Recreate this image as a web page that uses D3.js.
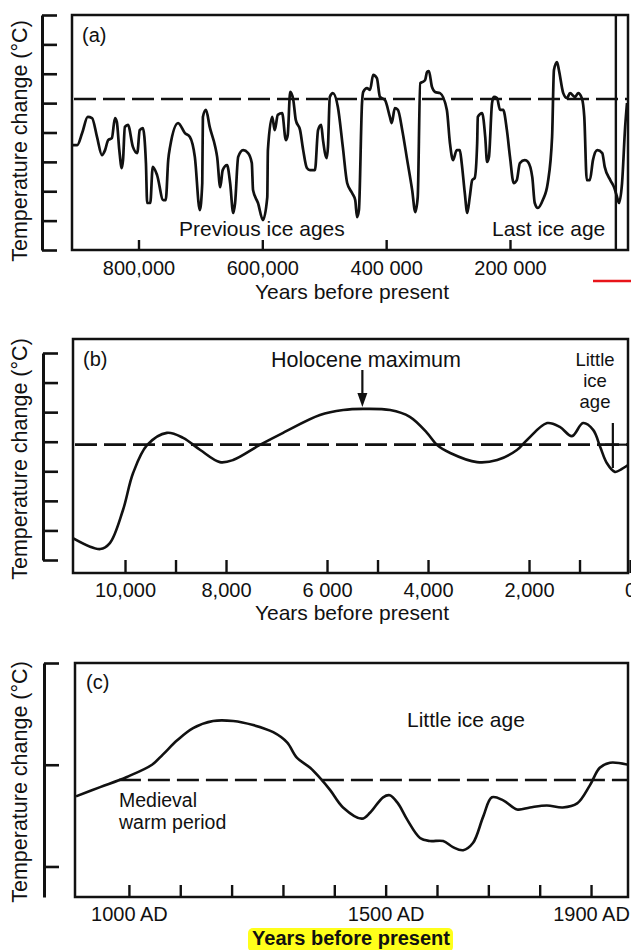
<!DOCTYPE html>
<html><head><meta charset="utf-8">
<script src="https://cdn.jsdelivr.net/npm/d3@7"></script>
<style>
body{margin:0;background:#fff}
svg{display:block}
text{font-family:"Liberation Sans",Arial,Helvetica,sans-serif;fill:#111}
</style>
</head><body>
<svg id="chart" width="631" height="950"></svg>
<script>
// ---------- DATA ----------
// Panel (a): last ~900,000 years (years before present, temperature in tick units)
const yearsA = [907,899,891,882,875,867,859,854,849,843,838,835,831,827,825,822,817,809,802,798,
 793,788,786,781,777,770,760,756,752,749,736,725,717,709,701,697,696,691,685,676,
 673,668,664,657,652,647,644,639,631,623,617,615,607,599,592,591,584,580,575,568,
 562,559,555,550,546,539,534,528,523,515,510,505,502,496,494,491,486,478,470,463,
 455,450,447,444,439,437,431,426,421,415,410,402,394,391,386,381,374,366,358,353,
 349,345,341,337,334,331,326,321,313,302,297,292,286,281,278,273,269,265,261,257,
 253,252,245,240,237,234,229,226,221,216,211,205,200,194,189,184,176,171,164,160,
 155,147,139,132,129,124,121,114,108,103,95,90,84,80,76,71,66,59,51,47,
 38,32,27,24,19,14,11].map(k => k * 1000);
const tempA = [3.57,3.57,3.98,4.53,4.49,3.85,3.23,3.40,3.74,3.81,4.49,4.36,3.40,2.79,3.06,4.19,4.26,3.51,3.30,4.08,
 4.15,2.96,1.60,1.60,2.83,2.55,1.70,1.70,3.06,3.51,4.32,3.98,3.85,3.17,1.36,2.28,4.53,4.77,4.19,3.51,
 3.17,2.14,2.72,2.89,2.28,1.26,1.60,3.17,3.40,3.30,2.96,2.04,1.60,1.02,1.80,3.40,4.53,4.08,4.60,4.66,
 3.74,3.91,5.38,5.11,4.43,4.08,3.40,2.79,2.72,2.72,4.08,4.26,3.74,3.13,3.51,5.21,5.34,4.87,3.51,2.28,
 1.94,1.70,1.12,1.36,5.00,5.38,5.51,5.45,5.96,5.85,5.21,5.11,4.53,4.32,4.83,4.77,4.08,3.06,2.04,1.29,
 1.80,5.68,5.72,5.79,6.06,6.09,5.55,5.38,5.34,4.77,3.64,3.06,3.40,3.40,2.96,1.94,1.26,1.80,2.38,2.45,
 3.64,4.53,4.66,3.85,3.00,3.17,5.00,5.21,5.17,4.77,4.77,4.08,3.17,2.28,2.38,2.96,3.06,3.00,2.48,1.60,
 1.43,1.70,2.28,3.85,6.13,6.40,6.13,5.34,5.17,5.34,5.21,5.34,5.17,4.53,2.38,2.38,3.06,3.40,3.30,2.83,
 2.38,2.14,1.80,1.60,2.28,4.19,5.00];
const ticksA = [800000, 600000, 400000, 200000];
const tickLabelsA = ["800,000", "600,000", "400 000", "200 000"];
const referenceA = 5.14;
const markerYearA = 29000;

// Panel (b): last ~11,000 years
const yearsB = [11030,10490,10300,10040,9840,9560,9170,8850,8510,8120,7860,7330,6870,6140,5680,5290,4750,4360,
 4020,3820,3560,3030,2630,2240,2040,1640,1390,1150,930,730,590,460,300,160,40];
const tempB = [0.74,0.37,0.57,1.69,2.94,3.89,4.30,4.13,3.72,3.31,3.38,3.89,4.30,4.90,5.07,5.11,5.07,4.84,
 4.30,3.89,3.62,3.31,3.38,3.72,4.06,4.63,4.50,4.19,4.63,4.40,3.82,3.28,2.98,3.08,3.21];
const ticksB = [10000, 9000, 8000, 6000, 5000, 4000, 2000, 1000];
const tickLabelsB = {10000: "10,000", 8000: "8,000", 6000: "6 000", 4000: "4,000", 2000: "2,000", 0: "0"};
const referenceB = 3.9;
const holoceneMaxYear = 5300;
const littleIceAgeYearB = 340;

// Panel (c): last 1,000 years (AD)
const yearsC = [897,944,996,1045,1066,1094,1125,1164,1203,1242,1281,1308,1327,1353,1372,1392,1417,1454,1470,
 1495,1508,1524,1542,1567,1586,1612,1631,1651,1670,1690,1707,1729,1756,1781,1814,1845,1873,1898,1917,1937,1972];
const tempC = [0.69,0.78,0.88,1.00,1.10,1.24,1.36,1.43,1.43,1.39,1.32,1.22,1.07,0.97,0.87,0.75,0.58,0.47,0.53,
 0.68,0.70,0.62,0.46,0.28,0.25,0.25,0.19,0.16,0.23,0.49,0.68,0.65,0.56,0.58,0.60,0.58,0.62,0.80,0.97,1.02,1.00];
const ticksC = [1000,1100,1200,1300,1400,1500,1600,1700,1800,1900];
const tickLabelsC = {1000: "1000 AD", 1500: "1500 AD", 1900: "1900 AD"};
const referenceC = 0.85;

const yLabel = "Temperature change (°C)";
const xTitle = "Years before present";

// ---------- DRAW ----------
const svg = d3.select("#chart");
const INK = "#111";
const SW = 2.5;

function frame(x0, y0, x1, y1) {
  svg.append("rect").attr("x", x0).attr("y", y0).attr("width", x1 - x0).attr("height", y1 - y0)
    .attr("fill", "none").attr("stroke", INK).attr("stroke-width", SW);
}
function yAxis(y, xPos, tickVals, ylabelX, ylabelY) {
  const g = svg.append("g").attr("transform", `translate(${xPos},0)`)
    .call(d3.axisRight(y).tickValues(tickVals).tickFormat("").tickSizeInner(15).tickSizeOuter(0));
  g.select(".domain").attr("stroke", INK).attr("stroke-width", 3);
  g.selectAll(".tick line").attr("stroke", INK).attr("stroke-width", 2.6);
  svg.append("text").attr("transform", `translate(${ylabelX},${ylabelY}) rotate(-90)`)
    .attr("text-anchor", "middle").style("font-size", "21.5px").text(yLabel);
}
function xAxis(x, yPos, tickVals, fmt, labelY, tickLen) {
  const g = svg.append("g").attr("transform", `translate(0,${yPos})`)
    .call(d3.axisBottom(x).tickValues(tickVals).tickFormat(fmt).tickSizeInner(-tickLen).tickSizeOuter(0));
  g.select(".domain").remove();
  g.selectAll(".tick line").attr("stroke", INK).attr("stroke-width", 2.4);
  g.selectAll(".tick text").attr("y", labelY - yPos).attr("dy", null).style("font-size", "20px");
  return g;
}
function txt(x, y, s, size, anchor, weight) {
  return svg.append("text").attr("x", x).attr("y", y).attr("text-anchor", anchor || "start")
    .style("font-size", size + "px").style("font-weight", weight || "normal").text(s);
}
function clip(id, x0, y0, x1, y1) {
  svg.append("clipPath").attr("id", id).append("rect")
    .attr("x", x0 + 1).attr("y", y0 + 1).attr("width", x1 - x0 - 2).attr("height", y1 - y0 - 2);
}
function dashed(x, y, val, x0, x1) {
  svg.append("line").attr("x1", x0).attr("x2", x1).attr("y1", y(val)).attr("y2", y(val))
    .attr("stroke", INK).attr("stroke-width", 2.6).attr("stroke-dasharray", "22,7");
}

// ===== Panel (a) =====
{
  const L = 72, R = 628, T = 15, B = 250;
  const x = d3.scaleLinear().domain([907400, 9400]).range([L, R]);
  const y = d3.scaleLinear().domain([0, 8]).range([B, T]);
  clip("clipA", L, T, R, B);
  dashed(x, y, referenceA, L + 2, R);
  const line = d3.line().x(d => x(d[0])).y(d => y(d[1])).curve(d3.curveMonotoneX);
  svg.append("path").datum(d3.zip(yearsA, tempA)).attr("d", line).attr("clip-path", "url(#clipA)")
    .attr("fill", "none").attr("stroke", INK).attr("stroke-width", 2.7).attr("stroke-linejoin", "round");
  svg.append("line").attr("x1", x(markerYearA)).attr("x2", x(markerYearA)).attr("y1", T).attr("y2", B)
    .attr("stroke", INK).attr("stroke-width", 2.4);
  frame(L, T, R, B);
  yAxis(y, 42, d3.range(0, 9), 27, 141);
  xAxis(x, B, ticksA, (d, i) => tickLabelsA[i], 275, 10);
  txt(352, 299, xTitle, 21, "middle");
  txt(82, 42, "(a)", 20);
  txt(179, 236, "Previous ice ages", 21);
  txt(492, 236, "Last ice age", 21);
  svg.append("line").attr("x1", 593).attr("x2", 631).attr("y1", 281).attr("y2", 281)
    .attr("stroke", "#e8141a").attr("stroke-width", 2.5);
}

// ===== Panel (b) =====
{
  const L = 73, R = 628, T = 339, B = 573;
  const x = d3.scaleLinear().domain([11030, 40]).range([L, R]);
  const y = d3.scaleLinear().domain([0, 7]).range([560, 353]);
  clip("clipB", L, T, R, B);
  dashed(x, y, referenceB, L + 2, R);
  const line = d3.line().x(d => x(d[0])).y(d => y(d[1])).curve(d3.curveCatmullRom.alpha(0.5));
  svg.append("path").datum(d3.zip(yearsB, tempB)).attr("d", line).attr("clip-path", "url(#clipB)")
    .attr("fill", "none").attr("stroke", INK).attr("stroke-width", 2.6);
  frame(L, T, R, B);
  yAxis(y, 43, d3.range(0, 8), 27, 459);
  xAxis(x, B, ticksB.concat([0]), d => tickLabelsB[d] || "", 597, 13);
  txt(352, 620, xTitle, 21, "middle");
  txt(83, 366, "(b)", 20);
  txt(366, 367, "Holocene maximum", 21.5, "middle");
  const ax = x(holoceneMaxYear);
  svg.append("line").attr("x1", ax).attr("x2", ax).attr("y1", 370).attr("y2", 396)
    .attr("stroke", INK).attr("stroke-width", 2.2);
  svg.append("path").attr("d", `M${ax - 5},393 L${ax + 5},393 L${ax},407 Z`).attr("fill", INK);
  txt(595, 366, "Little", 18.5, "middle");
  txt(595, 387, "ice", 18.5, "middle");
  txt(595, 408, "age", 18.5, "middle");
  const lx = x(littleIceAgeYearB);
  svg.append("line").attr("x1", lx).attr("x2", lx).attr("y1", 423).attr("y2", 468)
    .attr("stroke", INK).attr("stroke-width", 2.2);
  svg.append("line").attr("x1", 605).attr("x2", R).attr("y1", y(referenceB)).attr("y2", y(referenceB))
    .attr("stroke", INK).attr("stroke-width", 2.2);
}

// ===== Panel (c) =====
{
  const L = 75, R = 628, T = 663, B = 897;
  const x = d3.scaleLinear().domain([895, 1972]).range([L, R]);
  const y = d3.scaleLinear().domain([-0.3, 2]).range([B, T]);
  clip("clipC", L, T, R, B);
  dashed(x, y, referenceC, x(1000) - 10, R);
  const line = d3.line().x(d => x(d[0])).y(d => y(d[1])).curve(d3.curveCatmullRom.alpha(0.5));
  svg.append("path").datum(d3.zip(yearsC, tempC)).attr("d", line).attr("clip-path", "url(#clipC)")
    .attr("fill", "none").attr("stroke", INK).attr("stroke-width", 2.6);
  frame(L, T, R, B);
  yAxis(y, 44, [0, 1, 2], 27, 782);
  xAxis(x, B, ticksC, d => tickLabelsC[d] || "", 921, 12);
  txt(86, 689, "(c)", 20);
  txt(119, 807, "Medieval", 19.5);
  txt(119, 829, "warm period", 19.5);
  txt(407, 727, "Little ice age", 21);
  svg.append("rect").attr("x", 248).attr("y", 928).attr("width", 205).attr("height", 24)
    .attr("rx", 5).attr("fill", "#ffff1a");
  txt(351, 945, xTitle, 20, "middle", "bold");
}
</script>
</body></html>
